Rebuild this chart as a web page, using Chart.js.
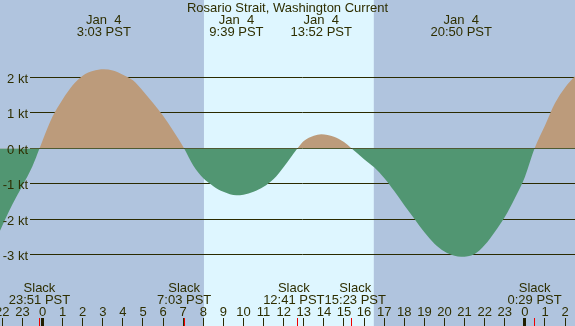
<!DOCTYPE html>
<html>
<head>
<meta charset="utf-8">
<script src="https://cdn.jsdelivr.net/npm/chart.js@4/dist/chart.umd.min.js"></script>
<style>
html,body{margin:0;padding:0;background:#b0c4de;}
canvas{display:block;}
</style>
</head>
<body>
<canvas id="c" width="575" height="326"></canvas>
<script>
// ---- data (hours relative to Jan 4 00:00 PST, speed in knots) ----
const curveHours = [-2.2,-1.5,-1,-0.5,-0.15,0,0.5,1,1.5,2,2.5,3.05,3.5,4,4.5,5,5.5,6,6.5,7.05,7.5,8,8.5,9,9.65,10,10.5,11,11.5,12,12.68,13,13.5,13.87,14.5,15,15.38,16,16.5,17,17.5,18,18.5,19,19.5,20,20.5,20.83,21.5,22,22.5,23,23.5,24,24.48,25,25.5,26,26.6];
const curveSpeeds = [-2.42,-1.58,-1.05,-0.5,0,0.22,0.9,1.38,1.78,2.05,2.18,2.23,2.2,2.08,1.92,1.62,1.28,0.92,0.5,0,-0.48,-0.84,-1.06,-1.22,-1.32,-1.30,-1.22,-1.08,-0.86,-0.52,0,0.21,0.36,0.40,0.33,0.18,0,-0.3,-0.53,-0.83,-1.2,-1.6,-1.98,-2.36,-2.68,-2.9,-3.02,-3.05,-2.97,-2.72,-2.35,-1.93,-1.4,-0.8,0,0.65,1.28,1.72,2.1];

const maxTimes = [3.05, 9.65, 13.867, 20.833];
const maxDates = ['Jan  4','Jan  4','Jan  4','Jan  4'];
const maxLabels = ['3:03 PST','9:39 PST','13:52 PST','20:50 PST'];

const slackTimes = [-0.15, 7.05, 12.683, 15.383, 24.483];
const slackLabels = ['23:51 PST','7:03 PST','12:41 PST','15:23 PST','0:29 PST'];

const hourTicks = [-2,-1,0,1,2,3,4,5,6,7,8,9,10,11,12,13,14,15,16,17,18,19,20,21,22,23,24,25,26];
const hourTickLabels = ['22','23','0','1','2','3','4','5','6','7','8','9','10','11','12','13','14','15','16','17','18','19','20','21','22','23','0','1','2'];
const midnightHours = [0, 24];

const speedTicks = [2,1,0,-1,-2,-3];
const speedTickLabels = ['2 kt','1 kt','0 kt','-1 kt','-2 kt','-3 kt'];

const sunrise = 8.033, sunset = 16.483;
const titleText = 'Rosario Strait, Washington Current';

// ---- styles ----
const TXT = '#2e2e00';
const FONT = '13px "Liberation Sans", Arial, sans-serif';

const deco = {
  id: 'deco',
  beforeDraw(chart) {
    const {ctx, width, height, scales:{x}} = chart;
    ctx.save();
    ctx.fillStyle = '#b0c4de';
    ctx.fillRect(0,0,width,height);
    const a = x.getPixelForValue(sunrise), b = x.getPixelForValue(sunset);
    ctx.fillStyle = '#def6ff';
    ctx.fillRect(a,0,b-a,height);
    ctx.restore();
  },
  beforeDatasetsDraw(chart) {
    const {ctx, width, scales:{y}} = chart;
    ctx.save();
    ctx.strokeStyle = '#2a2a00';
    ctx.lineWidth = 1;
    speedTicks.forEach((v) => {
      const py = Math.round(y.getPixelForValue(v) - 0.5) + 0.5;
      ctx.beginPath();
      ctx.moveTo(30, py);
      ctx.lineTo(width, py);
      ctx.stroke();
    });
    ctx.restore();
  },
  afterDatasetsDraw(chart) {
    const {ctx, width, height, scales:{x, y}} = chart;
    ctx.save();
    ctx.fillStyle = TXT;
    ctx.font = FONT;
    ctx.textBaseline = 'alphabetic';
    ctx.textAlign = 'right';
    speedTicks.forEach((v,i) => {
      const py = Math.round(y.getPixelForValue(v) - 0.5) + 0.5;
      ctx.fillText(speedTickLabels[i], 28, py + 5);
    });
    ctx.textAlign = 'center';
    ctx.fillText(titleText, width/2, 12);
    maxTimes.forEach((t,i) => {
      const px = x.getPixelForValue(t);
      ctx.fillText(maxDates[i], px, 24);
      ctx.fillText(maxLabels[i], px, 36);
    });
    // slack labels with overlap resolution
    const items = slackTimes.map((t,i) => ({c: x.getPixelForValue(t), w: ctx.measureText(slackLabels[i]).width, s: slackLabels[i]}));
    for (let i = 0; i < items.length-1; i++) {
      const A = items[i], B = items[i+1];
      const ov = (A.c + A.w/2) - (B.c - B.w/2);
      if (ov > 0) { A.c -= ov/2; B.c += ov/2; }
    }
    items.forEach(it => {
      ctx.fillText('Slack', it.c, 292);
      ctx.fillText(it.s, it.c, 304);
    });
    // hour labels and ticks
    hourTicks.forEach((h,i) => {
      const px = x.getPixelForValue(h);
      ctx.fillStyle = TXT;
      ctx.fillText(hourTickLabels[i], px, 316);
      ctx.fillStyle = '#2a2a00';
      ctx.fillRect(Math.round(px - 0.5), 318, 1, height - 318);
    });
    ctx.fillStyle = '#ee0000';
    slackTimes.forEach(t => {
      const px = x.getPixelForValue(t);
      ctx.fillRect(Math.round(px - 0.5), 318, 1, height - 318);
    });
    ctx.fillStyle = '#221e00';
    midnightHours.forEach(h => {
      const px = x.getPixelForValue(h);
      ctx.fillRect(Math.round(px - 1.5), 318, 3, height - 318);
    });
    ctx.restore();
  }
};

new Chart(document.getElementById('c'), {
  type: 'line',
  data: {
    datasets: [{
      data: curveHours.map((h,i) => ({x: h, y: curveSpeeds[i]})),
      borderWidth: 0,
      borderColor: 'rgba(0,0,0,0)',
      pointRadius: 0,
      cubicInterpolationMode: 'monotone',
      fill: {target: 'origin', above: '#bc9b7b', below: '#519672'}
    }]
  },
  options: {
    responsive: false,
    animation: false,
    devicePixelRatio: 1,
    layout: {padding: 0},
    plugins: {legend: {display: false}, tooltip: {enabled: false}, title: {display: false}},
    scales: {
      x: {type: 'linear', min: -2.114, max: 26.493, display: false},
      y: {type: 'linear', min: -5.0, max: 4.183, display: false}
    }
  },
  plugins: [deco]
});
</script>
</body>
</html>
